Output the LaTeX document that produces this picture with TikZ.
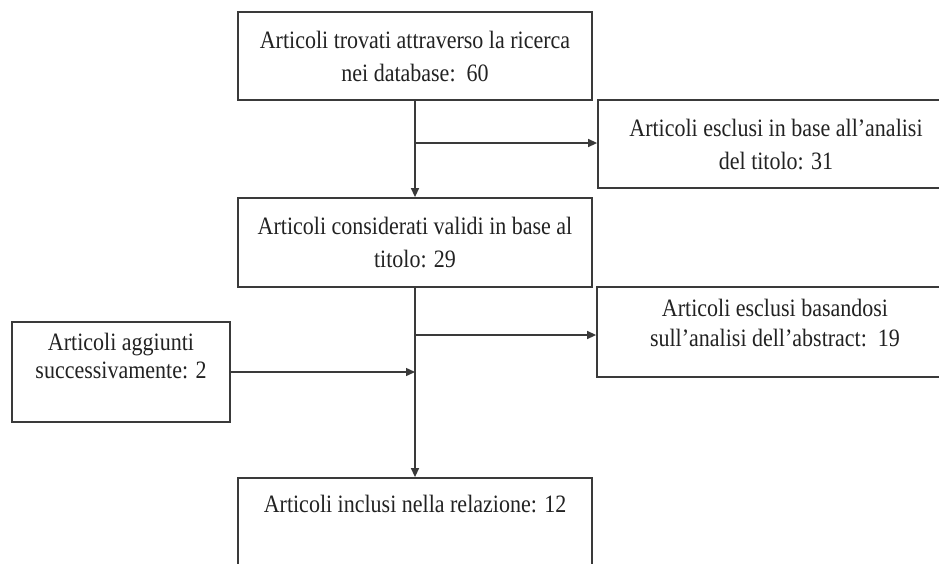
\documentclass[tikz,border=0pt]{standalone}
\usepackage{fontspec}
\setmainfont{Liberation Serif}[FakeStretch=0.88]
\usetikzlibrary{arrows.meta}
\definecolor{ink}{HTML}{222222}
\definecolor{edge}{HTML}{3A3A3A}
\tikzset{
  boxnode/.style={draw=edge, line width=1.8pt, fill=white, inner sep=0pt, align=center, text=ink,
    font=\fontsize{25}{33}\selectfont},
  txt/.style={text=ink, align=center, inner sep=0pt, font=\fontsize{25}{33}\selectfont},
  arr/.style={draw=edge, line width=1.4pt, -{Triangle[length=9pt,width=8pt]}},
  ln/.style={draw=edge, line width=1.4pt}
}
\begin{document}
\begin{tikzpicture}[x=1pt,y=-1pt]
\useasboundingbox (0,0) rectangle (939,563);
\clip (0,0) rectangle (939,563);
\fill[white] (0,0) rectangle (939,563);
% boxes
\node[boxnode, minimum width=354pt, minimum height=88pt] (b1) at (415,56)
  {Articoli trovati attraverso la ricerca\\nei database:\ \ 60};
\node[boxnode, minimum width=356pt, minimum height=88pt] (b2) at (776,144)
  {Articoli esclusi in base all’analisi\\del titolo: 31};
\node[boxnode, minimum width=354pt, minimum height=89pt] (b3) at (415,242.5)
  {Articoli considerati validi in base al\\titolo: 29};
\node[boxnode, minimum width=370pt, minimum height=90pt] (b4) at (782,332) {};
\node[txt, font=\fontsize{25}{30}\selectfont] (t4) at (775,323)
  {Articoli esclusi basandosi\\sull’analisi dell’abstract:\ \ 19};
\node[boxnode, minimum width=218pt, minimum height=100pt] (b5) at (121,372) {};
\node[txt, font=\fontsize{25}{28}\selectfont] (t5) at (121,356)
  {Articoli aggiunti\\successivamente: 2};
\node[boxnode, minimum width=354pt, minimum height=142pt] (b6) at (415,549) {};
\node[txt, anchor=base] (t6) at (415,512) {Articoli inclusi nella relazione: 12};
% connectors
\draw[arr] (b1.south) -- (b3.north);
\coordinate (c1) at (415,143);
\draw[arr] (c1) -- (c1 -| b2.west);
\draw[arr] (b3.south) -- (b6.north);
\coordinate (c2) at (415,335);
\draw[arr] (c2) -- (c2 -| b4.west);
\draw[arr] (b5.east) -- (b5.east -| b3.south);
\end{tikzpicture}
\end{document}
